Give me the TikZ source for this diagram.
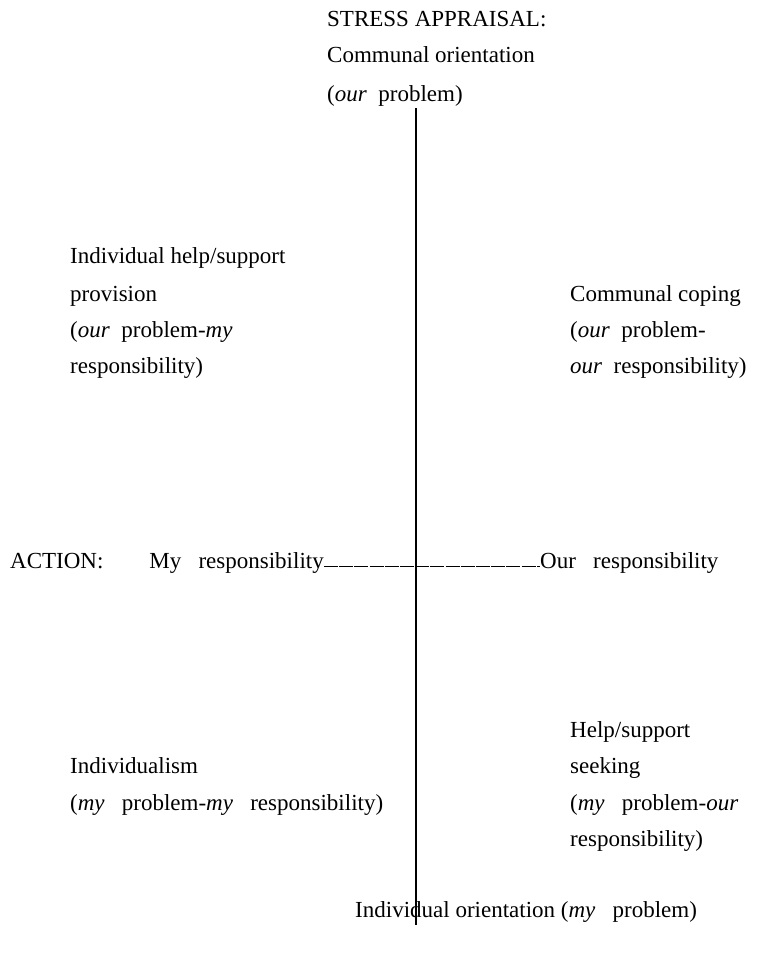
\documentclass[tikz,border=0pt]{standalone}
\usepackage{fontspec}
\setmainfont{Liberation Serif}
\begin{document}
\begin{tikzpicture}[x=1pt,y=-1pt,
  lbl/.style={anchor=base west,inner sep=0pt,font=\fontsize{23}{27}\selectfont},
  axis/.style={line width=1.8pt},
  rule/.style={line width=0.9pt,dash pattern=on 14pt off 1.2pt}]
\useasboundingbox (0,0) rectangle (756,977);
\spaceskip=0.42em plus 0.1em
% top label
\node[lbl] (t1) at (327,26) {STRESS APPRAISAL:};
\node[lbl] (t2) at (327,62) {Communal orientation};
\node[lbl] (t3) at (327,101) {(\textit{our}\ \ problem)};
% vertical axis
\coordinate (vtop) at (416,108);
\coordinate (vbot) at (416,925);
\draw[axis] (vtop) -- (vbot);
% upper left
\node[lbl] (ul1) at (70,263) {Individual help/support};
\node[lbl] (ul2) at (70,301) {provision};
\node[lbl] (ul3) at (70,337) {(\textit{our}\ \ problem-\textit{my}};
\node[lbl] (ul4) at (70,373) {responsibility)};
% upper right
\node[lbl] (ur1) at (570,301) {Communal coping};
\node[lbl] (ur2) at (570,337) {(\textit{our}\ \ problem-};
\node[lbl] (ur3) at (570,373) {\textit{our}\ \ responsibility)};
% action line
\node[lbl] (act) at (10,568) {ACTION:};
\node[lbl,anchor=base east] (myr) at (324,568) {My\ \ \ responsibility};
\node[lbl] (ourr) at (540,568) {Our\ \ \ responsibility};
\draw[rule] ([yshift=2pt]myr.base east) -- ([yshift=2pt]ourr.base west);
% lower right
\node[lbl] (lr1) at (570,737) {Help/support};
\node[lbl] (lr2) at (570,773) {seeking};
\node[lbl] (lr3) at (570,810) {(\textit{my}\ \ \ problem-\textit{our}};
\node[lbl] (lr4) at (570,846) {responsibility)};
% lower left
\node[lbl] (ll1) at (70,773) {Individualism};
\node[lbl] (ll2) at (70,810) {(\textit{my}\ \ \ problem-\textit{my}\ \ \ responsibility)};
% bottom label
\node[lbl] (b1) at (355,917) {Individual orientation (\textit{my}\ \ \ problem)};
\end{tikzpicture}
\end{document}
